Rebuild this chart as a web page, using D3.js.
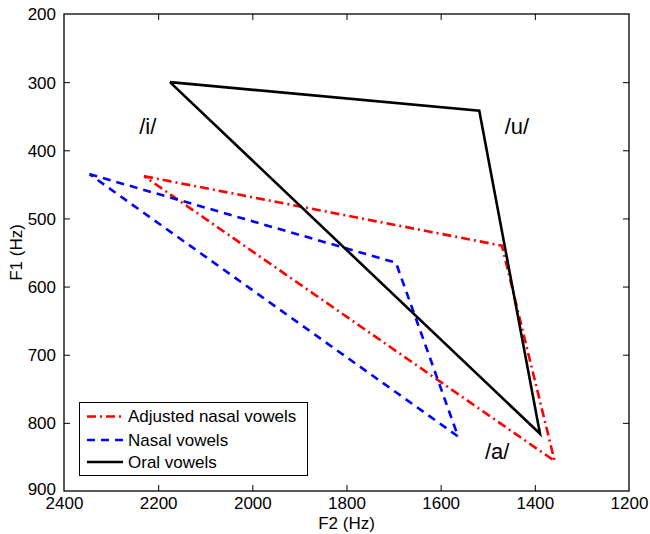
<!DOCTYPE html>
<html><head><meta charset="utf-8">
<script src="https://cdn.jsdelivr.net/npm/d3@7"></script>
<style>body{margin:0;background:#fff}svg{display:block}text{font-family:"Liberation Sans",Arial,Helvetica,sans-serif}</style>
</head><body><svg id="c" width="650" height="534"></svg>
<script>
const vowelLabels = ["/i/", "/u/", "/a/"];
const oralF2 = [2175, 1518, 1389];
const oralF1 = [300, 342, 816];
const nasalF2 = [2346, 1695, 1563];
const nasalF1 = [435, 565, 820];
const adjF2 = [2230, 1470, 1358];
const adjF1 = [438, 540, 856];
const xTicks = [2400, 2200, 2000, 1800, 1600, 1400, 1200];
const yTicks = [200, 300, 400, 500, 600, 700, 800, 900];
const labelPos = [[2222, 376], [1438, 376], [1480, 853]];
const seriesNames = ["Adjusted nasal vowels", "Nasal vowels", "Oral vowels"];

const svg = d3.select("#c");
const L = 64, R = 629, T = 14, B = 491;
const x = d3.scaleLinear().domain([2400, 1200]).range([L, R]);
const y = d3.scaleLinear().domain([200, 900]).range([T, B]);

const series = [
  {name: seriesNames[0], f2: adjF2, f1: adjF1, color: "#ff0000", dash: "9,4,2,4"},
  {name: seriesNames[1], f2: nasalF2, f1: nasalF1, color: "#0000ff", dash: "8,6"},
  {name: seriesNames[2], f2: oralF2, f1: oralF1, color: "#000000", dash: null}
];

const fmt = d3.format("d");
const tickLen = 6;
const gx = svg.append("g").attr("transform", `translate(0,${B})`)
  .call(d3.axisBottom(x).tickValues(xTicks).tickFormat(fmt).tickSizeInner(-tickLen).tickSizeOuter(0).tickPadding(6));
const gxt = svg.append("g").attr("transform", `translate(0,${T})`)
  .call(d3.axisTop(x).tickValues(xTicks).tickSizeInner(-tickLen).tickSizeOuter(0).tickFormat(""));
const gy = svg.append("g").attr("transform", `translate(${L},0)`)
  .call(d3.axisLeft(y).tickValues(yTicks).tickFormat(fmt).tickSizeInner(-tickLen).tickSizeOuter(0).tickPadding(8));
const gyr = svg.append("g").attr("transform", `translate(${R},0)`)
  .call(d3.axisRight(y).tickValues(yTicks).tickSizeInner(-tickLen).tickSizeOuter(0).tickFormat(""));
[gx, gxt, gy, gyr].forEach(g => {
  g.select(".domain").remove();
  g.selectAll("line").attr("stroke", "#000").attr("stroke-width", 1);
  g.selectAll("text").attr("font-size", 17).attr("fill", "#000")
   .style("font-family", '"Liberation Sans",Arial,sans-serif');
});
gx.selectAll("line").filter(d => d === 2400 || d === 1200).remove();
gxt.selectAll("line").filter(d => d === 2400 || d === 1200).remove();
gy.selectAll("line").filter(d => d === 200 || d === 900).remove();
gyr.selectAll("line").filter(d => d === 200 || d === 900).remove();
gy.selectAll("text").attr("dy", "0.35em");
gy.selectAll("text").filter(d => d === 900).attr("dy", "0.2em");
gx.selectAll("text").attr("dy", "0.71em");

svg.append("rect").attr("x", L).attr("y", T).attr("width", R - L).attr("height", B - T)
  .attr("fill", "none").attr("stroke", "#000").attr("stroke-width", 1.3);

svg.append("text").attr("x", (L + R) / 2).attr("y", 529).attr("text-anchor", "middle")
  .attr("font-size", 17).text("F2 (Hz)");
svg.append("text").attr("transform", `translate(22,${(T + B) / 2}) rotate(-90)`)
  .attr("text-anchor", "middle").attr("font-size", 17).text("F1 (Hz)");

const line = d3.line().x(d => x(d[0])).y(d => y(d[1]));
series.forEach(s => {
  const pts = s.f2.map((v, i) => [v, s.f1[i]]);
  pts.push(pts[0]);
  svg.append("path").attr("d", line(pts)).attr("fill", "none")
    .attr("stroke", s.color).attr("stroke-width", 2.6)
    .attr("stroke-dasharray", s.dash).attr("stroke-linejoin", "miter");
});

vowelLabels.forEach((t, i) => {
  svg.append("text").attr("x", x(labelPos[i][0])).attr("y", y(labelPos[i][1]))
    .attr("text-anchor", "middle").attr("font-size", 22).text(t);
});

const lg = svg.append("g");
lg.append("rect").attr("x", 79.5).attr("y", 402.5).attr("width", 228).attr("height", 73)
  .attr("fill", "#fff").attr("stroke", "#000").attr("stroke-width", 1);
const rowY = [416.5, 440, 462];
series.forEach((s, i) => {
  lg.append("line").attr("x1", 87).attr("x2", 123).attr("y1", rowY[i]).attr("y2", rowY[i])
    .attr("stroke", s.color).attr("stroke-width", 2.6).attr("stroke-dasharray", s.dash);
  lg.append("text").attr("x", 128).attr("y", rowY[i]).attr("dy", "0.35em")
    .attr("font-size", 17).text(s.name);
});
</script></body></html>
